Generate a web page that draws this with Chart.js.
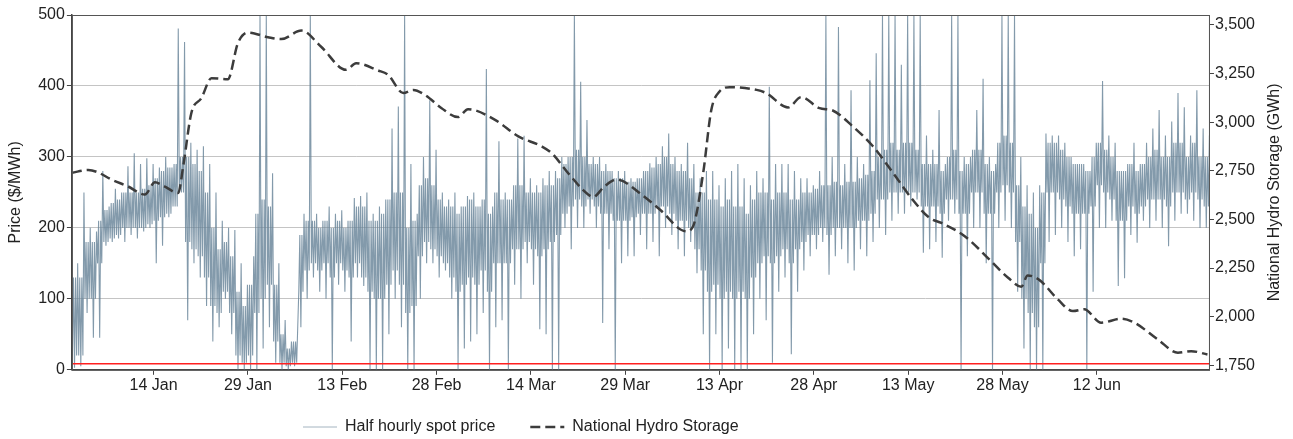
<!DOCTYPE html>
<html>
<head>
<meta charset="utf-8">
<script src="https://cdn.jsdelivr.net/npm/chart.js@4.4.1/dist/chart.umd.min.js"></script>
<style>
  body { margin: 0; background: #fff; }
  canvas { display: block; }
</style>
</head>
<body>
<canvas id="myChart" width="1293" height="439"></canvas>
<script>
// days counted from 1 Jan (leap year)
const tickDays = [13, 28, 43, 58, 73, 88, 103, 118, 133, 148, 163];
const tickLabels = ['14 Jan', '29 Jan', '13 Feb', '28 Feb', '14 Mar', '29 Mar', '13 Apr', '28 Apr', '13 May', '28 May', '12 Jun'];

// half hourly spot price ($/MWh), per day: extreme low / high ...
const dayLow = [
    3, 5, 80, 45, 45, 175, 180, 185, 180, 190, 185, 195, 200, 150, 175, 215, 230, 250, 70, 150,
    130, 90, 40, 60, 100, 50, 0, 0, 0, 0, 30, 60, 10, 0, 0, 5, 60, 100, 130, 110,
    100, 0, 120, 110, 40, 130, 118, 0, 0, 0, 50, 100, 60, 0, 0, 100, 150, 150, 130, 140,
    100, 0, 30, 40, 50, 80, 0, 60, 70, 0, 120, 100, 150, 120, 57, 50, 0, 0, 200, 170,
    200, 200, 220, 200, 66, 170, 0, 150, 160, 160, 190, 170, 180, 160, 200, 190, 170, 160, 180, 136,
    50, 0, 50, 0, 30, 0, 0, 0, 50, 100, 70, 10, 110, 130, 22, 110, 140, 160, 170, 180,
    134, 160, 170, 150, 140, 170, 160, 180, 200, 190, 210, 220, 220, 230, 240, 165, 170, 180, 158, 210,
    220, 0, 160, 200, 200, 150, 0, 200, 210, 200, 110, 30, 0, 0, 0, 180, 190, 200, 180, 160,
    170, 0, 110, 200, 200, 210, 118, 129, 190, 179, 210, 200, 210, 200, 174, 210, 220, 220, 210, 200,
    200
];
const dayHigh = [
    150, 250, 200, 195, 280, 230, 255, 250, 287, 305, 290, 298, 290, 285, 300, 285, 481, 462, 320, 310,
    315, 290, 250, 210, 200, 197, 150, 120, 160, 500, 500, 277, 150, 70, 40, 60, 220, 500, 220, 210,
    230, 220, 225, 210, 242, 245, 250, 220, 230, 240, 340, 371, 500, 290, 220, 300, 380, 310, 250, 240,
    250, 230, 245, 250, 230, 424, 230, 322, 250, 240, 326, 330, 270, 260, 270, 280, 280, 300, 300, 500,
    406, 352, 300, 300, 290, 280, 280, 280, 270, 270, 280, 291, 300, 315, 333, 300, 290, 320, 290, 270,
    280, 280, 260, 270, 280, 290, 270, 260, 280, 270, 399, 290, 290, 290, 280, 270, 270, 260, 280, 500,
    300, 483, 290, 394, 300, 290, 408, 446, 500, 500, 500, 430, 500, 500, 500, 330, 310, 366, 290, 500,
    500, 300, 300, 366, 410, 300, 290, 500, 500, 500, 300, 260, 250, 260, 333, 330, 330, 320, 300, 290,
    290, 280, 320, 407, 330, 320, 280, 290, 320, 290, 320, 340, 366, 330, 350, 390, 370, 330, 394, 340,
    330
];
// ... and the range where most half hours of the day sit
const bandLow = [
    20, 20, 100, 100, 150, 180, 185, 190, 200, 200, 200, 200, 205, 210, 215, 220, 230, 250, 180, 170,
    160, 130, 90, 80, 110, 80, 20, 10, 20, 80, 100, 120, 40, 10, 5, 10, 110, 140, 150, 140,
    150, 130, 150, 140, 130, 150, 130, 110, 100, 100, 120, 140, 120, 80, 90, 160, 180, 170, 160, 150,
    130, 110, 120, 130, 120, 140, 110, 150, 150, 150, 170, 170, 180, 170, 160, 170, 180, 190, 220, 230,
    240, 230, 240, 230, 220, 220, 210, 210, 210, 215, 220, 220, 220, 230, 230, 220, 210, 210, 200, 170,
    140, 110, 120, 100, 110, 100, 110, 100, 130, 150, 160, 150, 160, 170, 150, 170, 180, 190, 190, 200,
    190, 200, 200, 200, 200, 210, 210, 220, 240, 240, 250, 250, 250, 250, 250, 230, 230, 230, 220, 240,
    240, 220, 220, 250, 250, 220, 220, 250, 260, 250, 180, 100, 80, 60, 150, 250, 250, 240, 230, 220,
    220, 220, 230, 260, 250, 240, 210, 210, 230, 220, 230, 240, 240, 240, 230, 250, 250, 240, 250, 240,
    230
];
const bandHigh = [
    130, 130, 180, 180, 210, 225, 235, 240, 250, 250, 250, 255, 260, 270, 280, 285, 290, 300, 300, 290,
    280, 250, 200, 170, 180, 160, 110, 90, 120, 220, 240, 230, 120, 50, 30, 40, 190, 210, 210, 200,
    210, 200, 210, 200, 210, 230, 230, 210, 210, 220, 240, 250, 250, 200, 210, 260, 270, 260, 240, 230,
    230, 220, 230, 240, 230, 240, 220, 250, 240, 240, 260, 260, 250, 250, 250, 260, 260, 270, 290, 300,
    310, 300, 290, 290, 280, 280, 270, 270, 265, 265, 270, 280, 285, 290, 300, 290, 280, 280, 270, 250,
    250, 240, 240, 230, 240, 230, 230, 220, 240, 250, 250, 240, 250, 250, 240, 240, 250, 250, 255, 260,
    260, 265, 260, 265, 265, 270, 275, 280, 300, 310, 320, 310, 320, 320, 310, 290, 290, 290, 280, 300,
    310, 280, 290, 310, 310, 290, 280, 320, 330, 320, 260, 230, 220, 200, 250, 320, 320, 310, 300, 290,
    290, 280, 300, 320, 310, 300, 280, 280, 290, 280, 290, 300, 310, 300, 300, 320, 320, 300, 320, 300,
    300
];

// national hydro storage (GWh)
const storageDay = [0, 2.6, 4, 6.3, 8.9, 11.6, 13.2, 14.7, 16.9, 17.7, 19, 20.6, 22.2, 24.8, 26.4, 28, 31.2, 33.3, 36.5, 39.6,
    43.6, 45.2, 48.7, 50.3, 52.7, 54.3, 56.1, 58.8, 61.4, 63, 67.3, 71, 74.7, 76.3, 78.9, 82.1, 82.9, 84.7, 86.6, 90.6,
    93.5, 97.7, 98.8, 100.4, 101.7, 103, 104.6, 108.9, 110.4, 113.9, 116, 118.9, 121, 124.2, 127.4, 130.6, 133.7, 136.4, 138.3, 142,
    146.2, 148.9, 151, 152, 153.9, 156.8, 159.2, 161, 163.7, 166.9, 169, 172.7, 175.9, 178, 180.6];
const storageGWh = [2740, 2754, 2744, 2705, 2670, 2628, 2691, 2670, 2636, 2773, 3047, 3124, 3226, 3221, 3406, 3461, 3437, 3427, 3471, 3389,
    3269, 3303, 3266, 3243, 3150, 3166, 3141, 3072, 3026, 3067, 3012, 2927, 2876, 2841, 2739, 2628, 2616, 2670, 2705, 2628,
    2551, 2439, 2465, 2739, 3064, 3158, 3180, 3166, 3150, 3076, 3129, 3072, 3060, 2978, 2876, 2739, 2602, 2508, 2482, 2414,
    2285, 2200, 2154, 2212, 2188, 2089, 2029, 2038, 1969, 1990, 1969, 1883, 1815, 1823, 1806];

const thresholdPrice = 8.5;
const storageTicks = [1750, 2000, 2250, 2500, 2750, 3000, 3250, 3500];

window.onload = function () {
    const ctx = document.getElementById('myChart').getContext('2d');

    // six readings per day: band low/high, the day's low, band, then the day's high
    const pricePoints = [];
    dayLow.forEach((low, d) => {
        const seq = [bandLow[d], bandHigh[d], low, bandHigh[d], bandLow[d], dayHigh[d]];
        seq.forEach((v, k) => pricePoints.push({ x: d + (k + 0.5) / seq.length, y: v }));
    });
    const storagePoints = storageDay.map((d, i) => ({ x: d, y: storageGWh[i] }));

    Chart.defaults.font.family = '"Liberation Sans", Arial, sans-serif';
    Chart.defaults.font.size = 16;
    Chart.defaults.color = '#222';

    // box round the plot, right axis title (reads bottom to top), legend position
    const frame = {
        id: 'frame',
        beforeDraw(chart) {
            chart.legend.left = 268;
            chart.legend.top = 384;
        },
        afterDraw(chart) {
            const a = chart.chartArea;
            const c = chart.ctx;
            c.save();
            c.strokeStyle = '#555';
            c.lineWidth = 1;
            c.strokeRect(a.left + 0.5, a.top + 0.5, a.right - a.left - 1, a.bottom - a.top);
            c.translate(chart.scales.y1.right + 19, (a.top + a.bottom) / 2);
            c.rotate(-Math.PI / 2);
            c.font = '16px "Liberation Sans", Arial, sans-serif';
            c.fillStyle = '#222';
            c.textAlign = 'center';
            c.textBaseline = 'middle';
            c.fillText('National Hydro Storage (GWh)', 0, 0);
            c.restore();
        }
    };

    const config = {
        type: 'line',
        data: {
            datasets: [{
                label: 'Half hourly spot price',
                data: pricePoints,
                yAxisID: 'y',
                borderColor: 'rgba(104, 132, 152, 0.82)',
                borderWidth: 1.1,
                pointRadius: 0,
                pointStyle: 'line',
                order: 2
            }, {
                label: 'National Hydro Storage',
                data: storagePoints,
                yAxisID: 'y1',
                borderColor: '#3c3c3c',
                borderWidth: 2.5,
                borderDash: [10, 5],
                cubicInterpolationMode: 'monotone',
                pointRadius: 0,
                pointStyle: 'line',
                order: 0
            }, {
                label: 'threshold',
                data: [{ x: 0, y: thresholdPrice }, { x: 181, y: thresholdPrice }],
                yAxisID: 'y',
                borderColor: '#ff2020',
                borderWidth: 1.5,
                pointRadius: 0,
                order: 1
            }]
        },
        options: {
            responsive: false,
            animation: false,
            layout: { padding: { top: 15, left: 0, right: 37, bottom: -18 } },
            plugins: {
                legend: {
                    position: 'bottom',
                    align: 'start',
                    labels: {
                        usePointStyle: true,
                        pointStyleWidth: 34,
                        padding: 35,
                        color: '#222',
                        generateLabels: (chart) => Chart.defaults.plugins.legend.labels.generateLabels(chart)
                            .filter(item => item.text !== 'threshold')
                            .sort((a, b) => a.datasetIndex - b.datasetIndex)
                            .map(item => {
                                const ds = chart.data.datasets[item.datasetIndex];
                                item.lineDash = ds.borderDash || [];
                                item.lineWidth = item.datasetIndex === 0 ? 1 : ds.borderWidth;
                                item.strokeStyle = item.datasetIndex === 0 ? 'rgba(104, 132, 152, 0.6)' : ds.borderColor;
                                return item;
                            })
                    }
                },
                tooltip: { enabled: false }
            },
            scales: {
                x: {
                    type: 'linear',
                    min: 0,
                    max: 181,
                    afterBuildTicks: (scale) => {
                        scale.ticks = tickDays.map(v => ({ value: v }));
                    },
                    ticks: {
                        padding: 1,
                        maxRotation: 0,
                        autoSkip: false,
                        callback: (value) => tickLabels[tickDays.indexOf(value)]
                    },
                    grid: { drawOnChartArea: false, tickLength: 5, tickColor: '#444' },
                    border: { color: '#444', width: 1.5 }
                },
                y: {
                    position: 'left',
                    min: 0,
                    max: 500,
                    ticks: { stepSize: 100, padding: 2 },
                    grid: { color: '#c4c4c4', tickLength: 5, tickColor: '#444' },
                    border: { color: '#444', width: 1.5 },
                    title: {
                        display: true,
                        text: 'Price ($/MWh)',
                        padding: { top: 6, bottom: 11 }
                    }
                },
                y1: {
                    position: 'right',
                    min: 1727,
                    max: 3551,
                    afterBuildTicks: (scale) => {
                        scale.ticks = storageTicks.map(v => ({ value: v }));
                    },
                    ticks: {
                        padding: 1,
                        callback: (value) => value.toLocaleString('en-US')
                    },
                    grid: { drawOnChartArea: false, tickLength: 4, tickColor: '#444' },
                    border: { color: '#555', width: 1 }
                }
            }
        },
        plugins: [frame]
    };

    new Chart(ctx, config);
};
</script>
</body>
</html>
